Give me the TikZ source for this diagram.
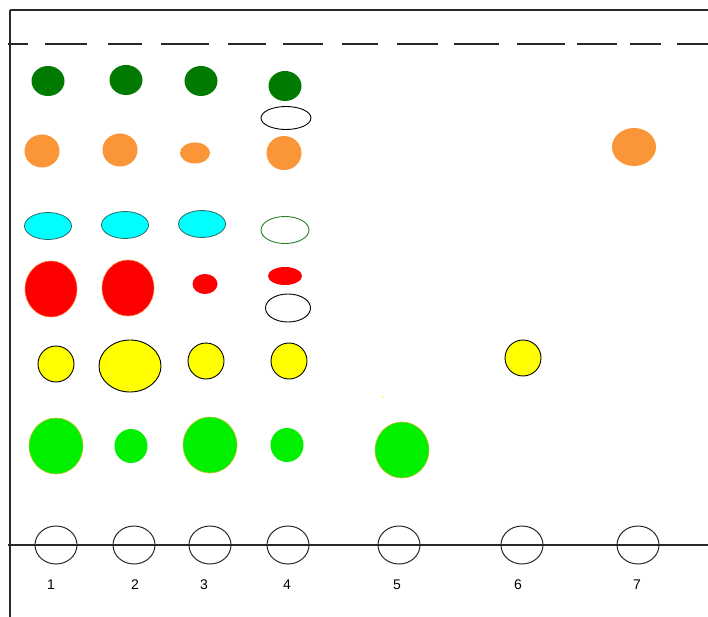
\documentclass[tikz,border=0pt]{standalone}
\usepackage{fontspec}
\setmainfont{Liberation Sans}
\definecolor{dkgreen}{RGB}{0,122,0}
\definecolor{spotorange}{RGB}{250,150,55}
\definecolor{spotcyan}{RGB}{0,255,255}
\definecolor{cyanedge}{RGB}{40,110,100}
\definecolor{spotred}{RGB}{255,0,0}
\definecolor{rededge}{RGB}{255,120,60}
\definecolor{spotyellow}{RGB}{255,255,0}
\definecolor{spotgreen}{RGB}{0,240,0}
\definecolor{greenedge}{RGB}{200,190,40}
\definecolor{ringgreen}{RGB}{40,130,40}
\definecolor{framegray}{RGB}{40,40,40}
\begin{document}
\begin{tikzpicture}[x=1pt,y=-1pt,
  frame/.style={line width=1.3pt,draw=framegray},
  dashline/.style={line width=1.3pt,draw=framegray},
  origin/.style={line width=1pt,draw=framegray},
  lab/.style={font=\fontsize{14}{14}\selectfont,text=black},
  dkspot/.style={fill=dkgreen},
  orspot/.style={fill=spotorange},
  cyspot/.style={fill=spotcyan,draw=cyanedge,line width=0.8pt},
  rdspot/.style={fill=spotred,draw=rededge,line width=0.6pt},
  ylspot/.style={fill=spotyellow,draw=black,line width=0.9pt},
  gnspot/.style={fill=spotgreen,draw=greenedge,line width=0.6pt},
  ring/.style={fill=white,draw=black,line width=0.9pt},
  gring/.style={fill=white,draw=ringgreen,line width=0.9pt}]
\useasboundingbox (0,0) rectangle (708,617);
\fill[white] (0,0) rectangle (708,617);
% frame
\draw[frame] (10,10) -- (708,10);
\draw[frame] (10,10) -- (10,617);
\draw[frame] (8,545) -- (708,545);
% solvent front (dashes)
\foreach \a/\b in {8/28,45/87,108/142,161/209,228/266,283/323,342/378,397/438,454/499,517/565,577/617,630/661,677/708}
  \draw[dashline] (\a,44) -- (\b,44);
% origin spots and lane labels
\foreach \i/\x in {1/56,2/134,3/210,4/288,5/399,6/522,7/638}{
  \draw[origin] (\x,545) ellipse [x radius=21, y radius=19];
}
\foreach \i/\x in {1/51,2/135,3/204,4/287,5/397,6/518,7/637}{
  \node[lab] (l\i) at (\x,585) {\i};
}
% dark green row
\fill[dkspot] (48,81) ellipse [x radius=16.5, y radius=15];
\fill[dkspot] (126,80) ellipse [x radius=16.5, y radius=15];
\fill[dkspot] (201,81) ellipse [x radius=16.5, y radius=15];
\fill[dkspot] (285,86) ellipse [x radius=16.5, y radius=15];
\draw[ring] (286,118) ellipse [x radius=25, y radius=11.5];
% orange row
\fill[orspot] (42,151) ellipse [x radius=17.5, y radius=16.5];
\fill[orspot] (120,150) ellipse [x radius=17.5, y radius=16.5];
\fill[orspot] (195,153) ellipse [x radius=15, y radius=10.5];
\fill[orspot] (284,153) ellipse [x radius=17.5, y radius=17];
\fill[orspot] (634,147) ellipse [x radius=22, y radius=19];
% cyan row
\draw[cyspot] (48,226) ellipse [x radius=23.5, y radius=13.5];
\draw[cyspot] (125,225) ellipse [x radius=23.5, y radius=13.5];
\draw[cyspot] (202,224) ellipse [x radius=23.5, y radius=13.5];
\draw[gring] (285,230) ellipse [x radius=24, y radius=13.5];
% red row
\draw[rdspot] (51,289) ellipse [x radius=26, y radius=28];
\draw[rdspot] (128,288) ellipse [x radius=26, y radius=28];
\fill[spotred] (205,284) ellipse [x radius=12.5, y radius=10];
\fill[spotred] (285,276) ellipse [x radius=17, y radius=9];
\draw[ring] (288,308) ellipse [x radius=22.5, y radius=14];
% yellow row
\draw[ylspot] (56,364) ellipse [x radius=18, y radius=18];
\draw[ylspot] (130,366) ellipse [x radius=31, y radius=26];
\draw[ylspot] (206,361) ellipse [x radius=18, y radius=18];
\draw[ylspot] (289,361) ellipse [x radius=18, y radius=18];
\draw[ylspot] (523,358) ellipse [x radius=18, y radius=18];
\fill[spotyellow!60!white] (383,397) circle [radius=1.2];
% bright green row
\draw[gnspot] (56,446) ellipse [x radius=27, y radius=28];
\fill[spotgreen] (131,446) ellipse [x radius=16.5, y radius=17];
\draw[gnspot] (210,445) ellipse [x radius=27, y radius=28];
\fill[spotgreen] (287,445) ellipse [x radius=16.5, y radius=17];
\draw[gnspot] (402,450) ellipse [x radius=27, y radius=28];
\end{tikzpicture}
\end{document}
